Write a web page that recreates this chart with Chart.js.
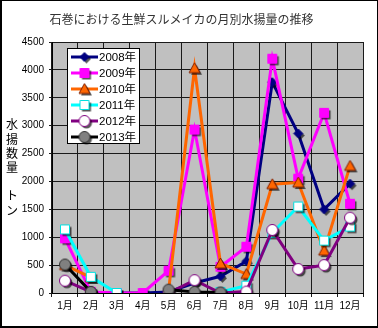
<!DOCTYPE html>
<html lang="ja">
<head>
    <meta charset="UTF-8">
    <title>石巻における生鮮スルメイカの月別水揚量の推移</title>
    <style>
        body {
            margin: 0;
            padding: 0;
            background-color: #ffffff;
        }
        #chart-box {
            width: 378px;
            height: 328px;
        }
    </style>
</head>
<body>
    <div id="chart-box">
        <canvas id="landings" width="378" height="328"></canvas>
    </div>
    <script src="https://cdn.jsdelivr.net/npm/chart.js@4/dist/chart.umd.min.js"></script>
    <script>
        const months = ['1月', '2月', '3月', '4月', '5月', '6月', '7月', '8月', '9月', '10月', '11月', '12月'];
        const yearLabels = ['2008年', '2009年', '2010年', '2011年', '2012年', '2013年'];

        // monthly landings (t)
        const y2008 = [null, 0, 0, 0, 20, 180, 300, 570, 3780, 2860, 1500, 1960];
        const y2009 = [980, 20, 0, 0, 400, 2930, 470, 830, 4200, 2050, 3230, 1600];
        const y2010 = [500, 280, null, null, 50, 4030, 530, 340, 1950, 1980, 760, 2280];
        const y2011 = [1140, 290, 0, null, null, null, 20, 130, 1080, 1550, 940, 1190];
        const y2012 = [220, 20, null, null, 0, 230, 0, 25, 1130, 430, 500, 1350];
        const y2013 = [510, 20, null, null, 60, 20, 10, null, null, null, null, null];

        const yTicks = [0, 500, 1000, 1500, 2000, 2500, 3000, 3500, 4000, 4500];

        const FONT = "'Liberation Sans', 'Noto Sans CJK JP', sans-serif";

        // marker sprites with a hard drop shadow
        function makeMarker(shape, fill, stroke, size) {
            const pad = 3;
            const c = document.createElement('canvas');
            c.width = c.height = size + pad * 2;
            const ctx = c.getContext('2d');
            const m = c.width / 2;
            const r = size / 2;
            ctx.shadowColor = 'rgba(0,0,0,0.65)';
            ctx.shadowOffsetX = 2;
            ctx.shadowOffsetY = 2;
            ctx.shadowBlur = 0;
            ctx.fillStyle = fill;
            ctx.strokeStyle = stroke;
            ctx.lineWidth = 1;
            ctx.beginPath();
            if (shape === 'diamond') {
                ctx.moveTo(m, m - r);
                ctx.lineTo(m + r, m);
                ctx.lineTo(m, m + r);
                ctx.lineTo(m - r, m);
                ctx.closePath();
            } else if (shape === 'square') {
                ctx.rect(m - r + 0.5, m - r + 0.5, size - 1, size - 1);
            } else if (shape === 'triangle') {
                ctx.moveTo(m, m - r);
                ctx.lineTo(m + r, m + r - 1);
                ctx.lineTo(m - r, m + r - 1);
                ctx.closePath();
            } else {
                ctx.arc(m, m, r - 0.5, 0, Math.PI * 2);
            }
            ctx.fill();
            ctx.shadowColor = 'transparent';
            ctx.stroke();
            return c;
        }

        const markers = [
            makeMarker('diamond', '#000080', '#000080', 9),
            makeMarker('square', '#ff00ff', '#ff00ff', 10),
            makeMarker('triangle', '#ff6600', '#802000', 11),
            makeMarker('square', '#ffffff', '#00e0e0', 10),
            makeMarker('circle', '#ffffff', '#800080', 12),
            makeMarker('circle', '#808080', '#303030', 12)
        ];
        const lineColors = ['#000080', '#ff00ff', '#ff6600', '#00ffff', '#800080', '#000000'];
        const series = [y2008, y2009, y2010, y2011, y2012, y2013];

        const datasets = series.map((values, i) => ({
            label: yearLabels[i],
            data: values,
            borderColor: lineColors[i],
            borderWidth: 3,
            pointStyle: markers[i],
            pointRadius: 5,
            tension: 0,
            order: series.length - 1 - i
        }));

        // grey plot area, frame, vertical axis caption, legend box
        const decor = {
            id: 'decor',
            beforeDraw(chart) {
                const ctx = chart.ctx;
                const a = chart.chartArea;
                ctx.save();
                ctx.fillStyle = '#ffffff';
                ctx.fillRect(0, 0, chart.width, chart.height);
                ctx.fillStyle = '#c0c0c0';
                ctx.fillRect(a.left, a.top, a.right - a.left, a.bottom - a.top);
                ctx.restore();
            },
            afterDraw(chart) {
                const ctx = chart.ctx;
                ctx.save();
                // outer frame
                ctx.strokeStyle = '#000000';
                ctx.lineWidth = 1;
                ctx.strokeRect(0.5, 0.5, chart.width - 1, chart.height - 1);
                ctx.beginPath();
                ctx.moveTo(1.5, 0);
                ctx.lineTo(1.5, chart.height);
                ctx.moveTo(0, chart.height - 1.5);
                ctx.lineTo(chart.width, chart.height - 1.5);
                ctx.stroke();

                // axis caption, stacked vertically
                ctx.fillStyle = '#000000';
                ctx.font = '12px ' + FONT;
                ctx.textAlign = 'center';
                ctx.textBaseline = 'middle';
                let y = 126;
                for (const ch of '水揚数量 トン') {
                    if (ch !== ' ') ctx.fillText(ch, 12, y);
                    y += 14.2;
                }

                // legend
                const bx = 67, by = 48, bw = 73, bh = 96;
                ctx.fillStyle = '#ffffff';
                ctx.fillRect(bx, by, bw, bh);
                ctx.strokeStyle = '#000000';
                ctx.strokeRect(bx + 0.5, by + 0.5, bw - 1, bh - 1);
                ctx.font = '11.5px ' + FONT;
                ctx.textAlign = 'left';
                chart.data.datasets.forEach((ds, i) => {
                    const ly = by + 9 + i * 16;
                    ctx.strokeStyle = ds.borderColor;
                    ctx.lineWidth = 3;
                    ctx.beginPath();
                    ctx.moveTo(bx + 4, ly);
                    ctx.lineTo(bx + 31, ly);
                    ctx.stroke();
                    const img = ds.pointStyle;
                    ctx.drawImage(img, bx + 17.5 - img.width / 2, ly - img.height / 2);
                    ctx.fillStyle = '#000000';
                    ctx.fillText(ds.label, bx + 32, ly + 1);
                });
                ctx.restore();
            }
        };

        new Chart(document.getElementById('landings'), {
            type: 'line',
            data: { labels: months, datasets: datasets },
            plugins: [decor],
            options: {
                responsive: false,
                animation: false,
                layout: { padding: { left: 0, right: 15, top: 0, bottom: 0 } },
                plugins: {
                    legend: { display: false },
                    tooltip: { enabled: false },
                    title: {
                        display: true,
                        text: '石巻における生鮮スルメイカの月別水揚量の推移',
                        color: '#333333',
                        font: { family: FONT, size: 12, weight: 'normal', lineHeight: 1.2 },
                        padding: { top: 13, bottom: 14.6 }
                    }
                },
                scales: {
                    x: {
                        offset: true,
                        grid: {
                            offset: true,
                            color: '#1a1a1a',
                            lineWidth: 1,
                            tickLength: 4
                        },
                        border: { color: '#000000', width: 1 },
                        ticks: {
                            color: '#000000',
                            font: { family: FONT, size: 10 },
                            padding: 3,
                            maxRotation: 0,
                            autoSkip: false
                        },
                        afterFit(scale) { scale.height = 35; }
                    },
                    y: {
                        min: 0,
                        max: 4500,
                        afterBuildTicks(scale) {
                            scale.ticks = yTicks.map(v => ({ value: v }));
                        },
                        grid: {
                            color: '#1a1a1a',
                            lineWidth: 1,
                            tickLength: 3
                        },
                        border: { color: '#000000', width: 1 },
                        ticks: {
                            color: '#000000',
                            font: { family: FONT, size: 10 },
                            padding: 5,
                            callback: v => String(v)
                        },
                        afterFit(scale) { scale.width = 52; }
                    }
                }
            }
        });
    </script>
</body>
</html>
